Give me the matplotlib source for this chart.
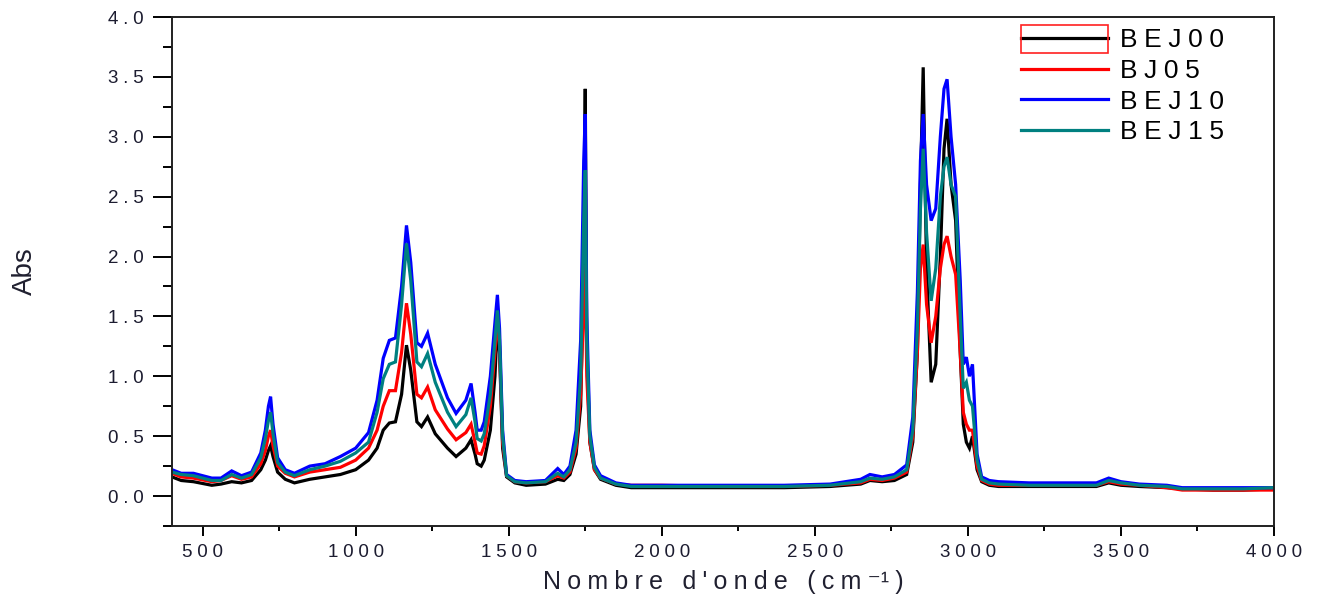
import numpy as np
import matplotlib
matplotlib.use("Agg")
import matplotlib.pyplot as plt
from matplotlib.patches import Rectangle
from matplotlib.ticker import MultipleLocator, FuncFormatter

# Wavenumber grid (cm^-1) shared by all spectra
wavenumber = [
    400, 430, 470, 530, 560, 595, 627, 660, 690, 705, 715, 722, 730, 745, 770,
    800, 850, 900, 950, 1000, 1042, 1070, 1090, 1110, 1130, 1150, 1166, 1180,
    1200, 1215, 1235, 1260, 1300, 1328, 1360, 1377, 1390, 1397, 1410, 1420,
    1440, 1455, 1463, 1470, 1480, 1493, 1520, 1557, 1620, 1660, 1680, 1700,
    1720, 1735, 1745, 1750, 1755, 1765, 1780, 1800, 1850, 1900, 2000, 2200,
    2400, 2550, 2650, 2680, 2720, 2760, 2800, 2820, 2835, 2845, 2854, 2865,
    2880, 2895, 2910, 2922, 2932, 2945, 2960, 2975, 2985, 2995, 3005, 3015,
    3030, 3045, 3070, 3100, 3200, 3300, 3420, 3460, 3500, 3560, 3650, 3700,
    3800, 3900, 4000,
]

abs_bej00 = [
    0.16, 0.13, 0.12, 0.09, 0.10, 0.12, 0.11, 0.13, 0.22, 0.30, 0.38, 0.42, 0.33, 0.20, 0.14,
    0.11, 0.14, 0.16, 0.18, 0.22, 0.30, 0.40, 0.55, 0.61, 0.62, 0.85, 1.26, 1.05,
    0.62, 0.58, 0.66, 0.52, 0.40, 0.33, 0.40, 0.47, 0.35, 0.27, 0.25, 0.30,
    0.55, 1.00, 1.45, 1.20, 0.40, 0.16, 0.11, 0.09, 0.10, 0.14, 0.13, 0.18,
    0.35, 0.75, 2.00, 3.40, 1.20, 0.45, 0.22, 0.14, 0.09, 0.07, 0.07, 0.07,
    0.07, 0.08, 0.10, 0.13, 0.12, 0.13, 0.18, 0.45, 1.20, 2.60, 3.58, 1.90,
    0.95, 1.10, 2.00, 2.90, 3.15, 2.60, 2.30, 1.20, 0.60, 0.45, 0.40, 0.50,
    0.22, 0.12, 0.09, 0.08, 0.08, 0.08, 0.08, 0.11, 0.09, 0.08, 0.07, 0.06,
    0.05, 0.05, 0.06,
]

abs_bj05 = [
    0.19, 0.16, 0.15, 0.12, 0.13, 0.17, 0.14, 0.16, 0.27, 0.38, 0.50, 0.55, 0.42, 0.25, 0.19,
    0.16, 0.20, 0.22, 0.24, 0.30, 0.40, 0.55, 0.75, 0.88, 0.88, 1.20, 1.61, 1.35,
    0.85, 0.82, 0.91, 0.72, 0.56, 0.47, 0.53, 0.60, 0.45, 0.36, 0.35, 0.42,
    0.75, 1.20, 1.50, 1.25, 0.45, 0.17, 0.12, 0.11, 0.12, 0.17, 0.15, 0.20,
    0.40, 0.85, 1.60, 1.93, 1.00, 0.45, 0.22, 0.15, 0.10, 0.09, 0.09, 0.08,
    0.08, 0.09, 0.11, 0.14, 0.13, 0.15, 0.20, 0.50, 1.20, 1.90, 2.10, 1.60,
    1.28, 1.50, 1.90, 2.10, 2.17, 2.00, 1.85, 1.20, 0.70, 0.60, 0.55, 0.55,
    0.25, 0.13, 0.10, 0.09, 0.09, 0.09, 0.09, 0.12, 0.10, 0.09, 0.07, 0.05,
    0.05, 0.05, 0.05,
]

abs_bej10 = [
    0.22, 0.19, 0.19, 0.15, 0.15, 0.21, 0.17, 0.20, 0.36, 0.55, 0.75, 0.83, 0.60, 0.32, 0.22,
    0.19, 0.25, 0.27, 0.33, 0.40, 0.53, 0.80, 1.15, 1.30, 1.32, 1.75, 2.26, 1.95,
    1.28, 1.25, 1.36, 1.10, 0.82, 0.69, 0.80, 0.94, 0.70, 0.55, 0.55, 0.62,
    1.00, 1.45, 1.68, 1.40, 0.55, 0.18, 0.13, 0.12, 0.13, 0.23, 0.18, 0.25,
    0.55, 1.30, 2.80, 3.19, 1.50, 0.55, 0.26, 0.17, 0.11, 0.09, 0.09, 0.09,
    0.09, 0.10, 0.14, 0.18, 0.16, 0.18, 0.26, 0.66, 1.70, 2.80, 3.19, 2.60,
    2.30, 2.40, 3.00, 3.40, 3.48, 3.00, 2.60, 1.80, 1.10, 1.16, 1.00, 1.10,
    0.35, 0.16, 0.13, 0.12, 0.11, 0.11, 0.11, 0.15, 0.12, 0.10, 0.09, 0.07,
    0.07, 0.07, 0.07,
]

abs_bej15 = [
    0.20, 0.18, 0.17, 0.13, 0.13, 0.18, 0.15, 0.18, 0.32, 0.48, 0.63, 0.70, 0.52, 0.28, 0.20,
    0.17, 0.22, 0.25, 0.29, 0.36, 0.45, 0.70, 0.98, 1.10, 1.12, 1.60, 2.11, 1.80,
    1.12, 1.08, 1.19, 0.95, 0.70, 0.58, 0.68, 0.82, 0.62, 0.48, 0.46, 0.52,
    0.85, 1.30, 1.55, 1.30, 0.50, 0.17, 0.12, 0.11, 0.12, 0.19, 0.16, 0.22,
    0.45, 1.00, 2.30, 2.72, 1.30, 0.50, 0.24, 0.15, 0.10, 0.08, 0.08, 0.08,
    0.08, 0.09, 0.12, 0.15, 0.14, 0.16, 0.22, 0.55, 1.40, 2.40, 2.90, 2.20,
    1.63, 1.90, 2.50, 2.75, 2.83, 2.60, 2.50, 1.50, 0.90, 0.95, 0.80, 0.75,
    0.30, 0.14, 0.11, 0.10, 0.09, 0.09, 0.09, 0.13, 0.11, 0.09, 0.08, 0.06,
    0.06, 0.06, 0.07,
]

series_names = ["BEJ00", "BJ05", "BEJ10", "BEJ15"]
series_values = [abs_bej00, abs_bj05, abs_bej10, abs_bej15]
series_colors = ["#000000", "#ff0000", "#0000ff", "#008080"]

FONT = ["Liberation Sans", "DejaVu Sans"]
plt.rcParams["font.family"] = FONT


def spaced(text, gap):
    return gap.join(text)


fig = plt.figure(figsize=(13.2, 6.1), dpi=100)
ax = fig.add_axes([172 / 1320, 84 / 610, 1102 / 1320, 509 / 610])

for name, vals, col in zip(series_names, series_values, series_colors):
    ax.plot(wavenumber, vals, color=col, lw=2.3, label=spaced(name, "\u2005"),
            solid_joinstyle="miter")

ax.set_xlim(400, 4000)
ax.set_ylim(-0.25, 4.0)

ax.xaxis.set_major_locator(MultipleLocator(500))
ax.xaxis.set_minor_locator(MultipleLocator(250))
ax.yaxis.set_major_locator(MultipleLocator(0.5))
ax.yaxis.set_minor_locator(MultipleLocator(0.25))

ax.xaxis.set_major_formatter(FuncFormatter(lambda v, p: spaced(f"{v:.0f}", "\u2005")))
ax.yaxis.set_major_formatter(FuncFormatter(lambda v, p: spaced(f"{v:.1f}", "\u2005")))

lab_col = "#1c1c30"
ax.tick_params(axis="x", which="major", direction="out", length=7.2, width=1.4,
               pad=6, labelsize=13.5, labelcolor=lab_col)
ax.tick_params(axis="x", which="minor", direction="out", length=3.6, width=1.4)
ax.tick_params(axis="y", which="major", direction="out", length=13.7, width=1.4,
               pad=7, labelsize=13.5, labelcolor=lab_col)
ax.tick_params(axis="y", which="minor", direction="out", length=6.5, width=1.4)

for sp in ax.spines.values():
    sp.set_linewidth(1.4)
    sp.set_color("#202020")

ax.set_xlabel(spaced("Nombre d'onde (cm", "\u2005") + "\u2005\u207b\u00b9\u2005)",
              fontsize=18, color="#202030", labelpad=6)
ax.set_ylabel("Abs", fontsize=20, color="#202030", labelpad=50)

leg = ax.legend(loc="upper left", bbox_to_anchor=(0.7656, 0.988),
                frameon=False, fontsize=19, handlelength=3.3, handletextpad=0.45,
                labelspacing=0.25, borderpad=0.2, borderaxespad=0)

fig.patches.append(Rectangle((1021 / 1320, 1 - 53 / 610), 87 / 1320, 28 / 610,
                             transform=fig.transFigure, fill=False,
                             edgecolor="#ff2020", lw=1.2))

fig.savefig("out.png", dpi=100)
